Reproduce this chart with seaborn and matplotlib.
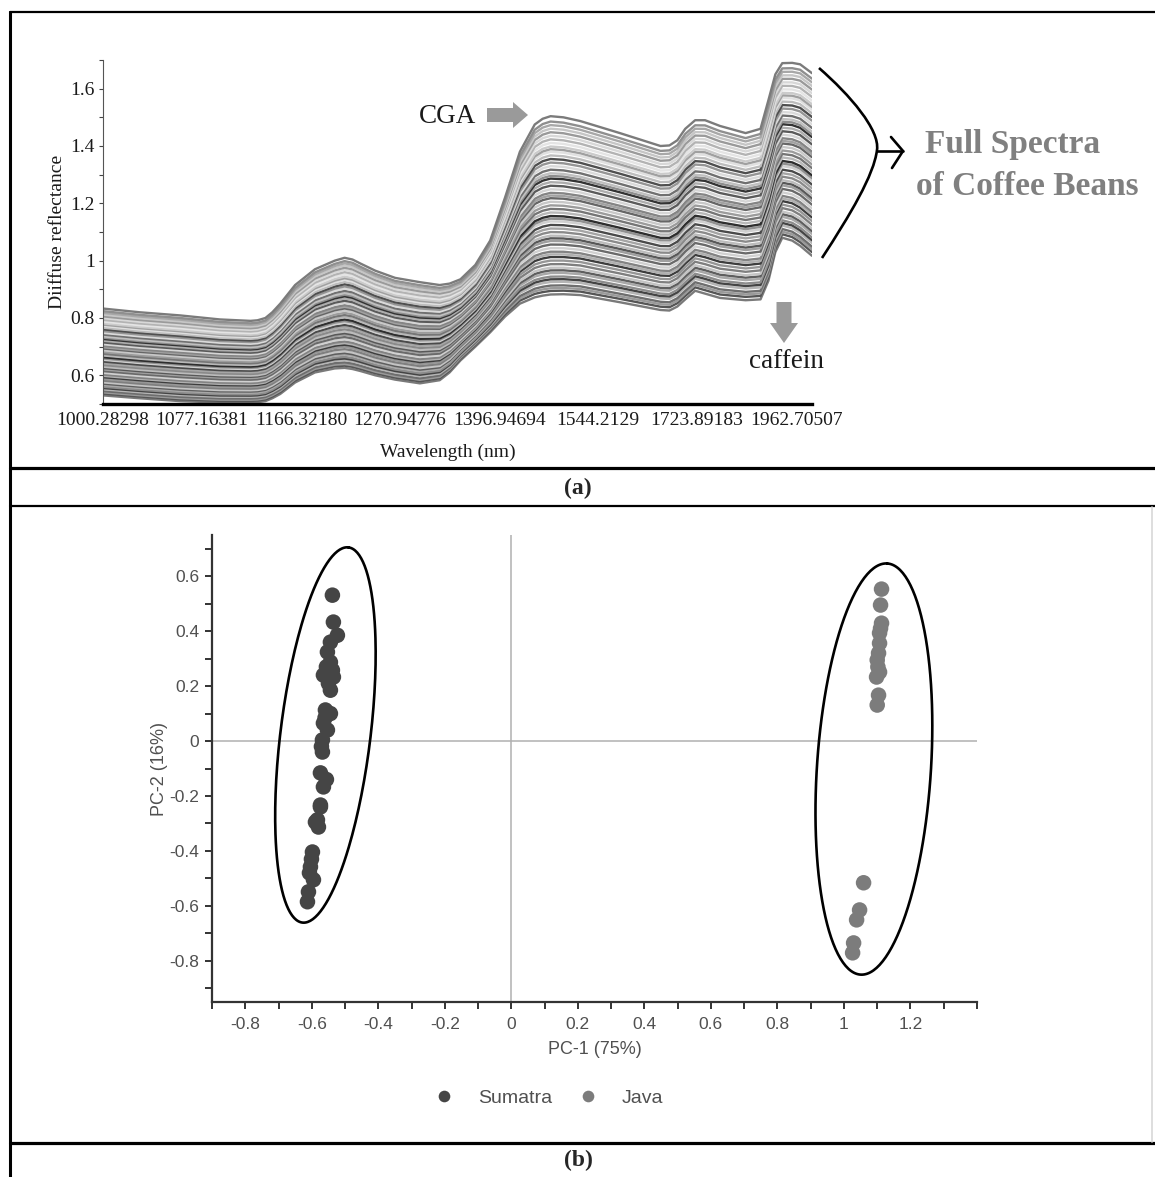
import matplotlib
matplotlib.use("Agg")  # headless rendering, no display needed
import matplotlib.pyplot as plt
from matplotlib.patches import FancyArrow, PathPatch
from matplotlib.path import Path
from matplotlib.ticker import MultipleLocator
import numpy as np
import pandas as pd
import seaborn as sns

# ---------------- (a) NIR spectra ----------------
wl_ticks = ["1000.28298", "1077.16381", "1166.32180", "1270.94776",
            "1396.94694", "1544.2129", "1723.89183", "1962.70507"]

# read positions along the (index) wavelength axis and the outer envelopes
band_pos = [0.00, 0.37, 0.78, 1.18, 1.49, 1.56, 1.64, 1.71, 1.79, 1.94,
            2.14, 2.34, 2.44, 2.52, 2.60, 2.75, 2.95, 3.20, 3.40, 3.50,
            3.61, 3.76, 3.91, 4.06, 4.21, 4.36, 4.44, 4.52, 4.65, 4.82,
            5.22, 5.63, 5.72, 5.80, 5.88, 5.98, 6.08, 6.23, 6.49, 6.64,
            6.72, 6.79, 6.86, 6.96, 7.04, 7.16]
top_edge = [0.833, 0.820, 0.809, 0.795, 0.790, 0.792, 0.800, 0.820, 0.850, 0.915,
            0.970, 1.000, 1.010, 1.004, 0.990, 0.965, 0.940, 0.925, 0.915, 0.920,
            0.935, 0.985, 1.070, 1.220, 1.380, 1.475, 1.495, 1.504, 1.500, 1.487,
            1.445, 1.400, 1.402, 1.420, 1.460, 1.490, 1.490, 1.470, 1.445, 1.460,
            1.560, 1.650, 1.689, 1.690, 1.685, 1.654]
bottom_edge = [0.530, 0.520, 0.510, 0.505, 0.505, 0.506, 0.510, 0.520, 0.535, 0.575,
               0.610, 0.624, 0.626, 0.622, 0.615, 0.600, 0.585, 0.572, 0.583, 0.610,
               0.652, 0.700, 0.750, 0.805, 0.850, 0.872, 0.878, 0.882, 0.883, 0.880,
               0.855, 0.828, 0.826, 0.840, 0.865, 0.895, 0.885, 0.870, 0.862, 0.865,
               0.930, 1.030, 1.080, 1.070, 1.052, 1.017]

# relative height of each sample inside the envelope, and its grey level
sample_frac = [0.00, 0.02, 0.035, 0.05, 0.07, 0.085, 0.10, 0.12, 0.135, 0.15,
               0.17, 0.19, 0.21, 0.225, 0.24, 0.26, 0.28, 0.30, 0.315, 0.33,
               0.35, 0.37, 0.39, 0.41, 0.425, 0.44, 0.46, 0.48, 0.50, 0.52,
               0.54, 0.555, 0.57, 0.59, 0.61, 0.63, 0.65, 0.665, 0.68, 0.70,
               0.72, 0.74, 0.76, 0.78, 0.80, 0.815, 0.83, 0.85, 0.87, 0.89,
               0.91, 0.93, 0.95, 0.97, 1.00]
sample_gray = ["#7a7a7a", "#555555", "#9a9a9a", "#6e6e6e", "#b5b5b5", "#444444", "#8c8c8c", "#a8a8a8",
               "#5e5e5e", "#c4c4c4", "#7f7f7f", "#969696", "#3d3d3d", "#b0b0b0", "#838383", "#d0d0d0",
               "#6a6a6a", "#9f9f9f", "#585858", "#bcbcbc", "#8a8a8a", "#a5a5a5", "#4a4a4a", "#cfcfcf",
               "#909090", "#2e2e2e", "#b8b8b8", "#767676", "#9c9c9c", "#c8c8c8", "#666666", "#a2a2a2",
               "#858585", "#d5d5d5", "#5a5a5a", "#adadad", "#333333", "#8e8e8e", "#c0c0c0", "#707070",
               "#dadada", "#959595", "#4f4f4f", "#bdbdbd", "#e0e0e0", "#a0a0a0", "#cbcbcb", "#e4e4e4",
               "#b3b3b3", "#d8d8d8", "#9a9a9a", "#c6c6c6", "#a8a8a8", "#8f8f8f", "#7b7b7b"]

# ---------------- (b) PCA scores ----------------
sumatra_pc1 = [-0.538, -0.535, -0.523, -0.544, -0.553, -0.544, -0.538, -0.565, -0.535, -0.544,
               -0.559, -0.544, -0.565, -0.553, -0.568, -0.568, -0.574, -0.565, -0.574, -0.589,
               -0.580, -0.574, -0.583, -0.598, -0.604, -0.595, -0.610, -0.613, -0.556, -0.550,
               -0.560, -0.571, -0.556, -0.601, -0.607]
sumatra_pc2 = [0.531, 0.433, 0.385, 0.360, 0.324, 0.287, 0.258, 0.240, 0.233, 0.185,
               0.113, 0.100, 0.065, 0.040, 0.004, -0.040, -0.116, -0.167, -0.240, -0.295,
               -0.313, -0.233, -0.287, -0.404, -0.458, -0.505, -0.549, -0.585, 0.270, 0.210,
               0.085, -0.020, -0.140, -0.430, -0.480]
java_pc1 = [1.113, 1.110, 1.113, 1.107, 1.107, 1.104, 1.100, 1.107, 1.098, 1.104,
            1.100, 1.059, 1.047, 1.038, 1.029, 1.026, 1.110, 1.102]
java_pc2 = [0.553, 0.495, 0.429, 0.393, 0.356, 0.320, 0.295, 0.251, 0.233, 0.167,
            0.131, -0.516, -0.615, -0.651, -0.735, -0.771, 0.410, 0.270]
pc1_ticks = [-0.8, -0.6, -0.4, -0.2, 0, 0.2, 0.4, 0.6, 0.8, 1, 1.2]
pc2_ticks = [-0.8, -0.6, -0.4, -0.2, 0, 0.2, 0.4, 0.6]

SERIF = ["Liberation Serif", "DejaVu Serif"]
SANS = ["Liberation Sans", "DejaVu Sans"]

sns.set_style("white")
plt.rcParams["axes.unicode_minus"] = False
plt.rcParams["font.family"] = SANS

W, H = 1155, 1177
fig = plt.figure(figsize=(W / 100, H / 100), dpi=100)

# ---------- panel (a) ----------
ax_a = fig.add_axes([103 / W, 1 - 404 / H, 709 / W, 344 / H])
rows = []
top = np.array(top_edge)
bot = np.array(bottom_edge)
for i, f in enumerate(sample_frac):
    vals = bot + f * (top - bot)
    for p, v in zip(band_pos, vals):
        rows.append({"sample": f"s{i:02d}", "pos": p, "refl": v})
spectra = pd.DataFrame(rows)
names = [f"s{i:02d}" for i in range(len(sample_frac))]
sns.lineplot(data=spectra, x="pos", y="refl", hue="sample", hue_order=names,
             palette=sample_gray, estimator=None, sort=False, legend=False,
             linewidth=1.7, ax=ax_a)
for line in ax_a.lines:
    line.set_solid_joinstyle("round")
ax_a.set_xlim(0, band_pos[-1])
ax_a.set_ylim(0.5, 1.7)
ax_a.set_xticks(range(len(wl_ticks)))
ax_a.set_xticklabels(wl_ticks, family=SERIF, fontsize=14, color="#1a1a1a")
ax_a.set_yticks([0.6, 0.8, 1.0, 1.2, 1.4, 1.6])
ax_a.set_yticklabels(["0.6", "0.8", "1", "1.2", "1.4", "1.6"], family=SERIF,
                     fontsize=14, color="#1a1a1a")
ax_a.yaxis.set_minor_locator(MultipleLocator(0.1))
ax_a.tick_params(axis="x", length=0, pad=6)
ax_a.tick_params(axis="y", which="both", left=True, length=3, width=0.8,
                 color="#444444", pad=3)
ax_a.set_xlabel("Wavelength (nm)", family=SERIF, fontsize=14, color="#1a1a1a")
ax_a.xaxis.set_label_coords(0.487, -0.115)
ax_a.set_ylabel("Diiffuse reflectance", family=SERIF, fontsize=14, color="#1a1a1a")
ax_a.yaxis.set_label_coords(-0.052, 0.5)
for s in ["top", "right"]:
    ax_a.spines[s].set_visible(False)
ax_a.spines["left"].set_color("#555555")
ax_a.spines["left"].set_linewidth(0.8)
ax_a.spines["bottom"].set_color("black")
ax_a.spines["bottom"].set_linewidth(2.4)
ax_a.set_facecolor("none")

# ---------- panel (b) ----------
ax_b = fig.add_axes([212 / W, 1 - 1002 / H, 765 / W, 467 / H])
scores = pd.DataFrame({
    "PC1": sumatra_pc1 + java_pc1,
    "PC2": sumatra_pc2 + java_pc2,
    "origin": ["Sumatra"] * len(sumatra_pc1) + ["Java"] * len(java_pc1),
})
ax_b.axhline(0, color="#b0b0b0", lw=1.1, zorder=0)
ax_b.axvline(0, color="#b0b0b0", lw=1.1, zorder=0)
sns.scatterplot(data=scores, x="PC1", y="PC2", hue="origin",
                palette={"Sumatra": "#454545", "Java": "#7c7c7c"},
                s=125, linewidth=0, ax=ax_b, zorder=3)
ax_b.set_xlim(-0.9, 1.4)
ax_b.set_ylim(-0.95, 0.75)
ax_b.set_xticks(pc1_ticks)
ax_b.set_xticklabels([f"{v:g}" for v in pc1_ticks])
ax_b.set_yticks(pc2_ticks)
ax_b.set_yticklabels([f"{v:g}" for v in pc2_ticks])
ax_b.xaxis.set_minor_locator(MultipleLocator(0.1))
ax_b.yaxis.set_minor_locator(MultipleLocator(0.1))
ax_b.tick_params(which="both", bottom=True, left=True, length=5, width=1.4,
                 color="#333333", labelsize=12.5, labelcolor="#505050")
ax_b.tick_params(axis="x", pad=6)
ax_b.tick_params(axis="y", pad=4)
for s in ["top", "right"]:
    ax_b.spines[s].set_visible(False)
for s in ["left", "bottom"]:
    ax_b.spines[s].set_color("#333333")
    ax_b.spines[s].set_linewidth(1.6)
ax_b.set_xlabel("PC-1 (75%)", fontsize=13, color="#505050")
ax_b.xaxis.set_label_coords(0.5, -0.083)
ax_b.set_ylabel("PC-2 (16%)", fontsize=13, color="#505050")
ax_b.yaxis.set_label_coords(-0.058, 0.5)
sns.move_legend(ax_b, "center", bbox_to_anchor=(0.434, -0.206), ncol=2,
                frameon=False, title=None, fontsize=14, handletextpad=0.75,
                columnspacing=0.8, markerscale=0.75)
for t in ax_b.get_legend().get_texts():
    t.set_color("#505050")

# group outlines drawn as ellipses in screen space
px_x = 765 / (1.4 + 0.9)
px_y = 467 / (0.75 + 0.95)


def group_ellipse(ax, cx, cy, a, b, tilt):
    t = np.linspace(0, 2 * np.pi, 240)
    th = np.radians(tilt)
    u, v = a * np.cos(t), b * np.sin(t)
    dx = u * np.sin(th) + v * np.cos(th)
    dy = u * np.cos(th) - v * np.sin(th)
    ax.plot(cx + dx / px_x, cy + dy / px_y, color="black", lw=1.9, zorder=4)


group_ellipse(ax_b, -0.559, 0.022, 189, 45, 7.0)
group_ellipse(ax_b, 1.090, -0.102, 206, 57, 3.7)

# ---------- overlay: table borders and annotations (pixel coords) ----------
ov = fig.add_axes([0, 0, 1, 1], zorder=10)
ov.set_xlim(0, W)
ov.set_ylim(H, 0)
ov.axis("off")
ov.patch.set_alpha(0)

ov.plot([10, W], [12, 12], color="black", lw=1.6)
ov.plot([10, 10], [12, H], color="black", lw=2.2)
ov.plot([10, W], [468, 468], color="black", lw=2.3)
ov.plot([10, W], [506, 506], color="black", lw=1.6)
ov.plot([10, W], [1143, 1143], color="black", lw=2.3)
ov.plot([1152, 1152], [507, 1142], color="#d8d8d8", lw=1.2)

ov.text(578, 488, "(a)", family=SERIF, fontsize=17, fontweight="bold",
        ha="center", va="center")
ov.text(578, 1160, "(b)", family=SERIF, fontsize=17, fontweight="bold",
        ha="center", va="center")

ov.text(419, 123, "CGA", family=SERIF, fontsize=19.5, color="#1a1a1a", va="baseline")
ov.add_patch(FancyArrow(487, 115, 41, 0, width=14, head_width=26, head_length=15,
                        length_includes_head=True, color="#9a9a9a", lw=0))
ov.text(749, 368, "caffein", family=SERIF, fontsize=19.5, color="#1a1a1a", va="baseline")
ov.add_patch(FancyArrow(784, 302, 0, 41, width=15, head_width=28, head_length=20,
                        length_includes_head=True, color="#9a9a9a", lw=0))

bracket = Path([(819, 68), (850, 95), (880, 130), (877, 150),
                (874, 175), (850, 215), (822, 258)],
               [Path.MOVETO, Path.CURVE4, Path.CURVE4, Path.CURVE4,
                Path.CURVE4, Path.CURVE4, Path.CURVE4])
ov.add_patch(PathPatch(bracket, fill=False, color="black", lw=1.9))
ov.plot([877, 903], [151, 151], color="black", lw=1.9)
ov.plot([891, 903, 892], [137, 151, 168], color="black", lw=1.9)

ov.text(925, 153, "Full Spectra", family=SERIF, fontsize=24, fontweight="bold",
        color="#808080", va="baseline")
ov.text(916, 195, "of Coffee Beans", family=SERIF, fontsize=24, fontweight="bold",
        color="#808080", va="baseline")

fig.savefig("out.png", dpi=100)
plt.close(fig)
